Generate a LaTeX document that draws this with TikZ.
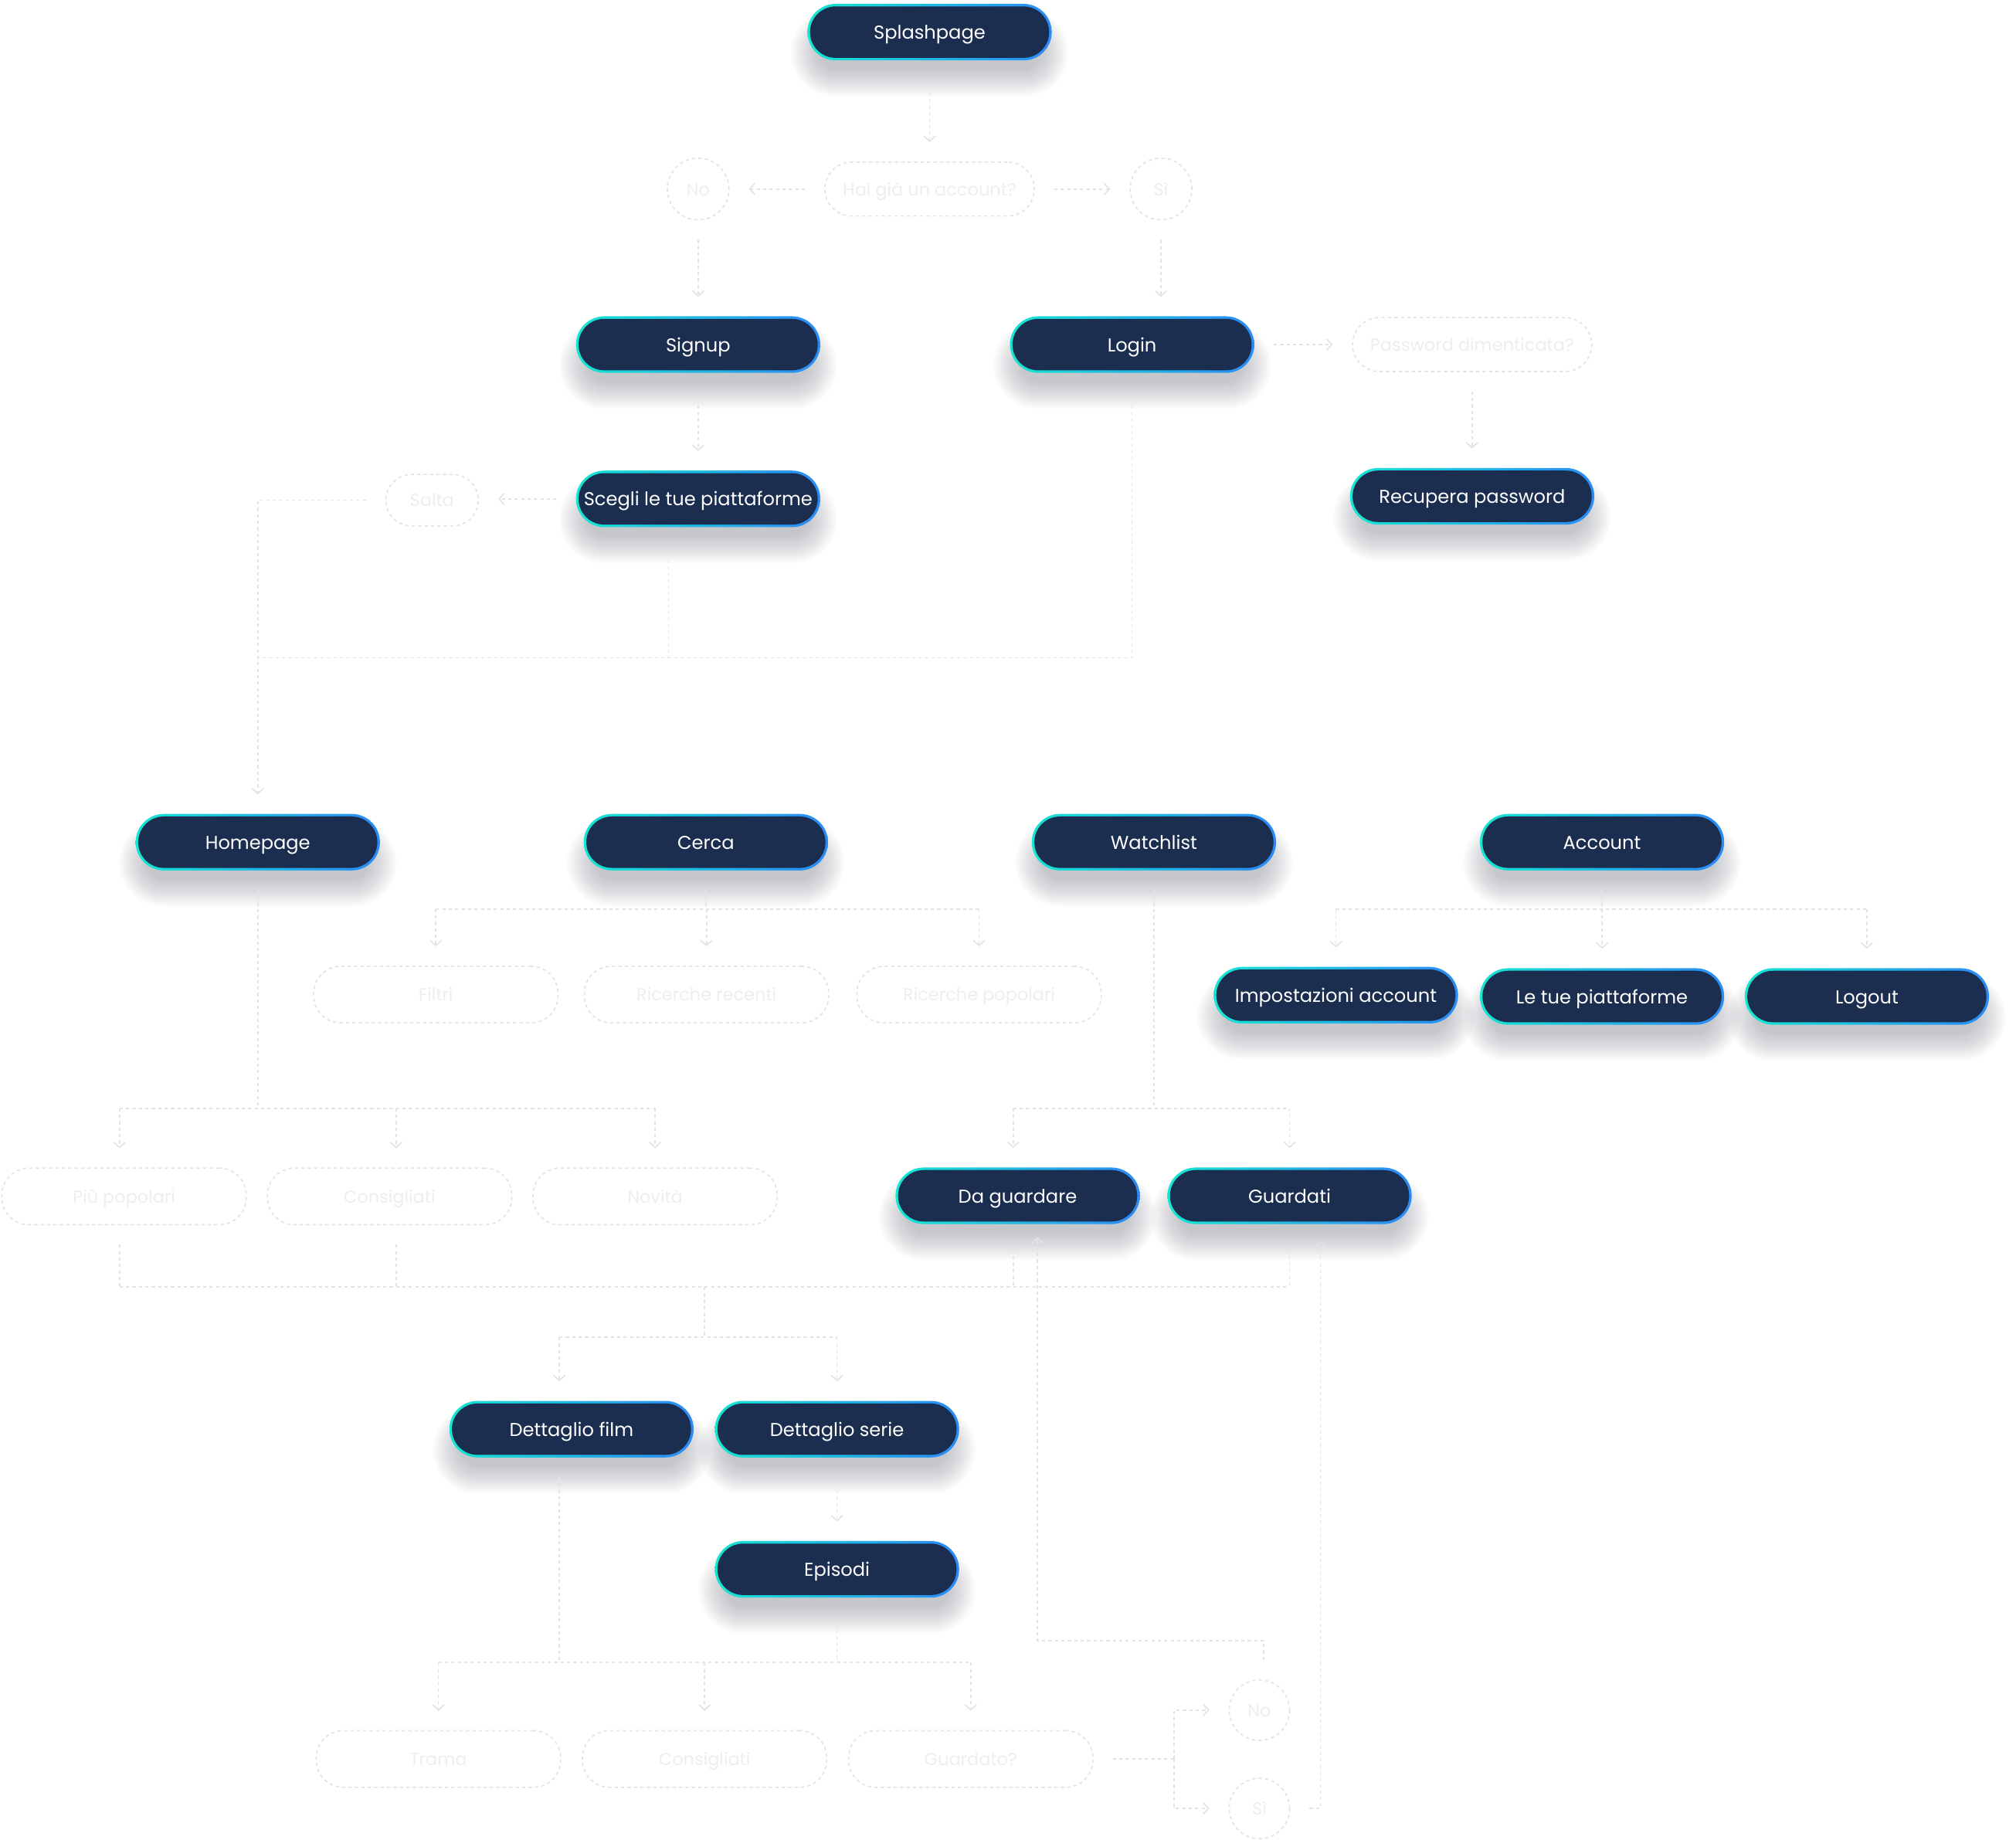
\documentclass[tikz,border=0pt]{standalone}
\usepackage{fontspec}
\setmainfont{Poppins}
\usetikzlibrary{arrows.meta,calc}
\definecolor{navy}{HTML}{1B2E4F}
\definecolor{cyanb}{HTML}{16E6D2}
\definecolor{blueb}{HTML}{2B8AF7}
\definecolor{faintline}{HTML}{E3E3E3}
\definecolor{fainttext}{HTML}{EEEEEE}
\definecolor{shadowc}{HTML}{1A2030}
\tikzset{
  pill/.style={rectangle, rounded corners=22pt, minimum width=190pt, minimum height=44pt,
    inner sep=0pt, left color=cyanb, right color=blueb, text=white,
    font=\fontsize{14.5}{17}\selectfont, text height=11pt, text depth=0pt,
    path picture={\fill[navy, rounded corners=20pt]
      ([shift={(2pt,-2pt)}]path picture bounding box.north west) rectangle
      ([shift={(-2pt,2pt)}]path picture bounding box.south east);}},
  softshadow/.style={fill=shadowc, fill opacity=0.016},
  ghost/.style={rectangle, rounded corners=21pt, draw=faintline, line width=1pt,
    dash pattern=on 2.5pt off 2.5pt, minimum width=190pt, minimum height=44pt,
    inner sep=0pt, text=fainttext, font=\fontsize{13.5}{16}\selectfont,
    text height=10pt, text depth=0pt},
  ghostc/.style={circle, draw=faintline, line width=1pt, dash pattern=on 2.5pt off 2.5pt,
    minimum size=48pt, inner sep=0pt, text=fainttext, font=\fontsize{13.5}{16}\selectfont,
    text height=10pt, text depth=0pt},
  line/.style={draw=faintline, line width=1pt, dash pattern=on 2.5pt off 2.5pt},
  gapstart/.style={shorten <=15pt},
  tipend/.style={-{Straight Barb[length=4pt, width=9pt, line width=1pt]}, shorten >=15pt},
}
% #1 name, #2 x, #3 y, #4 text
\newcommand{\pillnode}[4]{%
  \foreach \k [evaluate=\k as \hw using 86+22*\k/15,
               evaluate=\k as \hh using 13+21*\k/15] in {0,...,15}{
    \fill[softshadow, rounded corners=\hh pt]
      (#2-\hw, #3+16-\hh) rectangle (#2+\hw, #3+16+\hh);
  }
  \node[pill] (#1) at (#2,#3) {#4};
}
\begin{document}
\begin{tikzpicture}[x=1pt, y=-1pt]
\fill[white] (0,0) rectangle (1568,1431);
\useasboundingbox (0,0) rectangle (1568,1431);

% ghost (faint) nodes
\node[ghost, minimum width=163pt, minimum height=42pt] (hai) at (723,147) {Hai già un account?};
\node[ghostc] (no1) at (543,147) {No};
\node[ghostc] (si1) at (903,147) {Sì};
\node[ghost, minimum width=186pt, minimum height=42pt] (pwd) at (1145,268) {Password dimenticata?};
\node[ghost, minimum width=72pt, minimum height=40pt, rounded corners=20pt] (salta) at (336,389) {Salta};
\node[ghost] (filtri) at (339,773.5) {Filtri};
\node[ghost] (ricrec) at (549.5,773.5) {Ricerche recenti};
\node[ghost] (ricpop) at (761.5,773.5) {Ricerche popolari};
\node[ghost] (popolari) at (96.5,930.5) {Più popolari};
\node[ghost] (consigl) at (303,930.5) {Consigliati};
\node[ghost] (novita) at (509.5,930.5) {Novità};
\node[ghost] (trama) at (341,1368) {Trama};
\node[ghost] (consigl2) at (548,1368) {Consigliati};
\node[ghost] (guardato) at (755,1368) {Guardato?};
\node[ghostc, minimum size=47pt] (no2) at (979.5,1330) {No};
\node[ghostc, minimum size=47pt] (si2) at (979.5,1406.5) {Sì};

% pills
\pillnode{splash}{723}{25}{Splashpage}
\pillnode{signup}{543}{268}{Signup}
\pillnode{login}{880.5}{268}{Login}
\pillnode{scegli}{543}{388}{Scegli le tue piattaforme}
\pillnode{recupera}{1145}{386}{Recupera password}
\pillnode{home}{200.5}{655}{Homepage}
\pillnode{cerca}{549}{655}{Cerca}
\pillnode{watch}{897.5}{655}{Watchlist}
\pillnode{account}{1246}{655}{Account}
\pillnode{impost}{1039}{774}{Impostazioni account}
\pillnode{letue}{1246}{775}{Le tue piattaforme}
\pillnode{logout}{1452}{775}{Logout}
\pillnode{daguard}{791.5}{930}{Da guardare}
\pillnode{guardati}{1003}{930}{Guardati}
\pillnode{dfilm}{444.5}{1111.5}{Dettaglio film}
\pillnode{dserie}{651}{1111.5}{Dettaglio serie}
\pillnode{episodi}{651}{1220.5}{Episodi}

% top part
\draw[line,gapstart,tipend] (splash) -- (hai);
\draw[line,gapstart,tipend] (hai) -- (no1);
\draw[line,gapstart,tipend] (hai) -- (si1);
\draw[line,gapstart,tipend] (no1) -- (signup);
\draw[line,gapstart,tipend] (si1.south) -- (si1.south |- login.north);
\draw[line,gapstart,tipend] (login) -- (pwd);
\draw[line,gapstart,tipend] (pwd.south) -- (pwd.south |- recupera.north);
\draw[line,gapstart,tipend] (signup) -- (scegli);
\draw[line,gapstart,tipend] (scegli.west) -- (scegli.west -| salta.east);
\coordinate (busA) at (200.5,511.5);
\coordinate (sgl) at ([xshift=-23pt]scegli.south);
\draw[line,gapstart,tipend] (salta.west) -- (salta.west -| home.north) -- (home.north);
\draw[line,gapstart] (sgl) -- (sgl |- busA);
\draw[line,gapstart] (login.south) -- (login.south |- busA) -- (busA);

% cerca
\coordinate (busC) at (549,707);
\draw[line,gapstart] (cerca.south) -- (busC);
\draw[line] (filtri.north |- busC) -- (ricpop.north |- busC);
\draw[line,tipend] (filtri.north |- busC) -- (filtri.north);
\draw[line,tipend] (ricrec.north |- busC) -- (ricrec.north);
\draw[line,tipend] (ricpop.north |- busC) -- (ricpop.north);

% account
\coordinate (busAc) at (1246,707);
\draw[line,gapstart] (account.south) -- (busAc);
\draw[line] (impost.north |- busAc) -- (logout.north |- busAc);
\draw[line,tipend] (impost.north |- busAc) -- (impost.north);
\draw[line,tipend] (letue.north |- busAc) -- (letue.north);
\draw[line,tipend] (logout.north |- busAc) -- (logout.north);

% watchlist
\coordinate (busW) at (897.5,862);
\coordinate (dgL) at ([xshift=-3.5pt]daguard.north);
\draw[line,gapstart] (watch.south) -- (busW);
\draw[line] (dgL |- busW) -- (guardati.north |- busW);
\draw[line,tipend] (dgL |- busW) -- (dgL);
\draw[line,tipend] (guardati.north |- busW) -- (guardati.north);

% homepage
\coordinate (busH) at (200.5,862);
\coordinate (ppN) at ([xshift=-3.5pt]popolari.north);
\coordinate (csN) at ([xshift=5pt]consigl.north);
\draw[line,gapstart] (home.south) -- (busH);
\draw[line] (ppN |- busH) -- (novita.north |- busH);
\draw[line,tipend] (ppN |- busH) -- (ppN);
\draw[line,tipend] (csN |- busH) -- (csN);
\draw[line,tipend] (novita.north |- busH) -- (novita.north);

% merge to details
\coordinate (busM) at (548,1001);
\coordinate (busD) at (548,1040);
\coordinate (ppS) at ([xshift=-3.5pt]popolari.south);
\coordinate (csS) at ([xshift=5pt]consigl.south);
\coordinate (dgS) at ([xshift=-3.5pt]daguard.south);
\coordinate (dfN) at ([xshift=-9.5pt]dfilm.north);
\coordinate (dfS) at ([xshift=-9.5pt]dfilm.south);
\draw[line] (ppS |- busM) -- (guardati.south |- busM);
\draw[line,gapstart] (ppS) -- (ppS |- busM);
\draw[line,gapstart] (csS) -- (csS |- busM);
\draw[line,gapstart] (dgS) -- (dgS |- busM);
\draw[line,gapstart] (guardati.south) -- (guardati.south |- busM);
\draw[line] (busM) -- (busD);
\draw[line] (dfN |- busD) -- (dserie.north |- busD);
\draw[line,tipend] (dfN |- busD) -- (dfN);
\draw[line,tipend] (dserie.north |- busD) -- (dserie.north);
\draw[line,gapstart,tipend] (dserie) -- (episodi);

% bottom
\coordinate (busB) at (548,1293);
\draw[line,gapstart] (dfS) -- (dfS |- busB);
\draw[line,gapstart] (episodi.south) -- (episodi.south |- busB);
\draw[line] (trama.north |- busB) -- (guardato.north |- busB);
\draw[line,tipend] (trama.north |- busB) -- (trama.north);
\draw[line,tipend] (consigl2.north |- busB) -- (consigl2.north);
\draw[line,tipend] (guardato.north |- busB) -- (guardato.north);

% guardato? decision
\coordinate (fork) at (913,1368);
\draw[line,gapstart] (guardato.east) -- (fork);
\draw[line,tipend] (fork) -- (fork |- no2.west) -- (no2.west);
\draw[line,tipend] (fork) -- (fork |- si2.west) -- (si2.west);

% return arrows
\coordinate (retA) at (983,1276);
\coordinate (noN) at ([xshift=3.5pt]no2.north);
\coordinate (dgR) at ([xshift=15.5pt]daguard.south);
\coordinate (gR) at ([xshift=24pt]guardati.south);
\draw[line,gapstart,tipend,shorten >=10pt] (noN) -- (noN |- retA) -- (dgR |- retA) -- (dgR);
\draw[line,gapstart,tipend,shorten >=13pt] (si2.east) -- (si2.east -| gR) -- (gR);
\end{tikzpicture}
\end{document}
